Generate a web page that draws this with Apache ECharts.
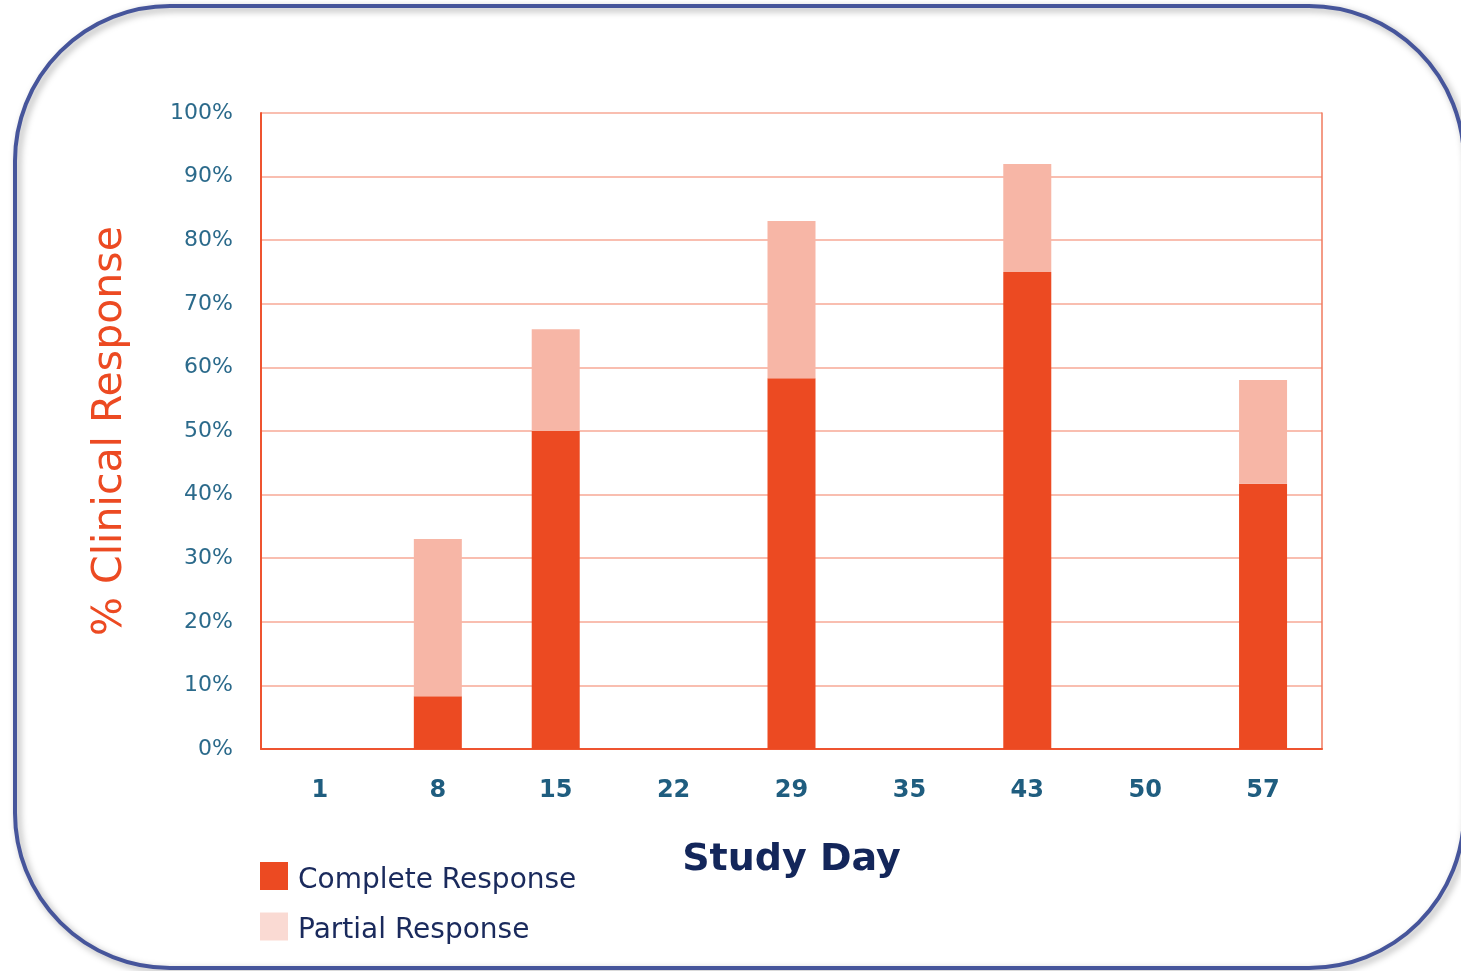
<!DOCTYPE html>
<html>
<head>
<meta charset="utf-8">
<script src="https://cdn.jsdelivr.net/npm/echarts@6/dist/echarts.min.js"></script>
<style>
  html, body { margin: 0; padding: 0; background: #ffffff; }
  #chart { width: 1461px; height: 971px; }
</style>
</head>
<body>
<div id="chart"></div>
<script>
// Study days on the x axis
const studyDays = ['1', '8', '15', '22', '29', '35', '43', '50', '57'];
// % of patients with a complete response per study day
const completeResponse = [0, 8.3, 50, 0, 58.3, 0, 75, 0, 41.7];
// % with a partial response, stacked on top of the complete response
const partialResponse = [0, 24.7, 16, 0, 24.7, 0, 17, 0, 16.3];
// Y axis tick range (percent)
const yMin = 0, yMax = 100, yStep = 10;

const FONT = '"DejaVu Sans", Verdana, sans-serif';
const RED = '#ec4a22';
const PINK = '#f7b6a6';

const chart = echarts.init(document.getElementById('chart'), null, { renderer: 'canvas' });

chart.setOption({
  backgroundColor: '#ffffff',
  animation: false,
  graphic: [{
    type: 'rect',
    z: -10,
    silent: true,
    shape: { x: 15, y: 6, width: 1449, height: 962, r: 155 },
    style: {
      fill: 'none',
      stroke: '#46559b',
      lineWidth: 4,
      shadowBlur: 7,
      shadowColor: 'rgba(0,0,0,0.35)',
      shadowOffsetX: 3,
      shadowOffsetY: 3
    }
  }],
  legend: {
    orient: 'vertical',
    left: 260,
    top: 862,
    padding: 0,
    itemWidth: 28,
    itemHeight: 28,
    itemGap: 18,
    icon: 'rect',
    formatter: '{t|{name}}',
    textStyle: {
      fontFamily: FONT, fontSize: 28, color: '#1a2a5c',
      rich: { t: { fontFamily: FONT, fontSize: 28, color: '#1a2a5c', padding: [9, 0, 0, 5] } }
    },
    data: [
      { name: 'Complete Response', itemStyle: { color: RED } },
      { name: 'Partial Response', itemStyle: { color: '#fadad3' } }
    ]
  },
  grid: { left: 261, right: 139, top: 113, bottom: 222 },
  xAxis: {
    type: 'category',
    data: studyDays,
    name: 'Study Day',
    nameLocation: 'middle',
    nameGap: 92,
    nameTextStyle: { fontFamily: FONT, fontSize: 38, fontWeight: 'bold', color: '#13265a' },
    axisLine: { lineStyle: { color: '#ee5430', width: 2 } },
    axisTick: { show: false },
    axisLabel: { margin: 30, fontFamily: FONT, fontSize: 24, fontWeight: 'bold', color: '#1f5d7f' }
  },
  yAxis: [{
    type: 'value',
    min: yMin,
    max: yMax,
    interval: yStep,
    name: '% Clinical Response',
    nameLocation: 'middle',
    nameGap: 130,
    nameRotate: 90,
    nameTextStyle: { fontFamily: FONT, fontSize: 41, color: '#ec4a22' },
    axisLine: { show: true, lineStyle: { color: '#ee5430', width: 2 } },
    axisTick: { show: false },
    axisLabel: { margin: 28, formatter: '{value}%', fontFamily: FONT, fontSize: 22, color: '#2b6a8b' },
    splitLine: { lineStyle: { color: '#f9beb0', width: 2 } }
  }, {
    type: 'value',
    position: 'right',
    min: yMin,
    max: yMax,
    interval: yStep,
    axisLine: { show: true, lineStyle: { color: '#f07a5e', width: 1.5 } },
    axisTick: { show: false },
    axisLabel: { show: false },
    splitLine: { show: false }
  }],
  series: [{
    name: 'Complete Response',
    type: 'bar',
    stack: 'response',
    barWidth: 48,
    data: completeResponse,
    itemStyle: { color: RED }
  }, {
    name: 'Partial Response',
    type: 'bar',
    stack: 'response',
    barWidth: 48,
    data: partialResponse,
    itemStyle: { color: PINK }
  }]
});
</script>
</body>
</html>
